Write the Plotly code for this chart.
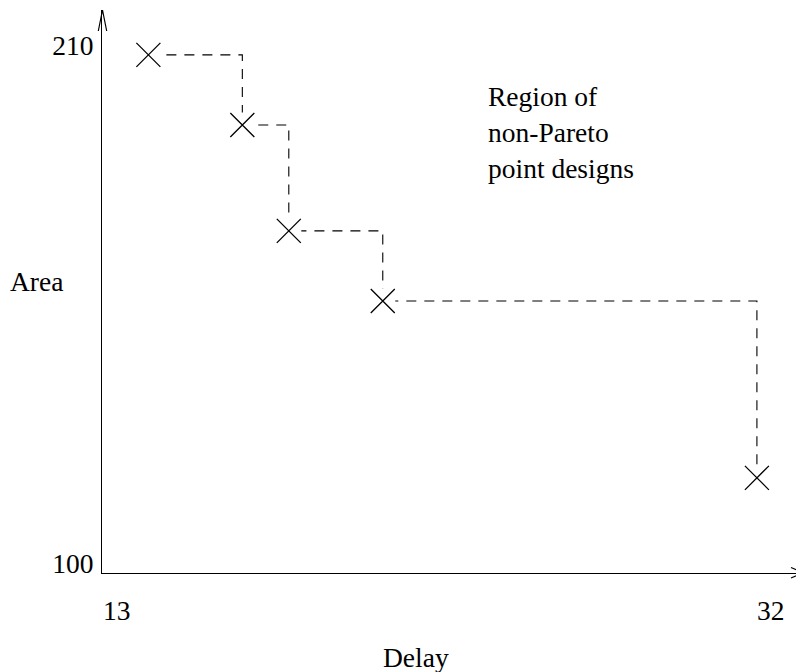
import plotly.graph_objects as go

# ---- data ----
delay = [13.92, 16.65, 18.0, 20.73, 31.6]
area = [208.0, 193.1, 170.6, 155.7, 118.1]
x_ticks = [13, 32]
y_ticks = [100, 210]
x_title = "Delay"
y_title = "Area"
note = "Region of<br>non-Pareto<br>point designs"

FONT = "Liberation Serif, Times New Roman, serif"
OFF = 8  # page body margin
W, H = 804 - OFF, 672 - OFF
# plot area in page pixels: x 102..803, y 10..573
PL, PR, PT, PB = 102, 803, 10, 573
ML, MR, MT, MB = PL - OFF, W - (PR - OFF), PT - OFF, H - (PB - OFF)
PW, PH = PR - PL, PB - PT


def px(x):
    return (x - PL) / PW


def py(y):
    return (PB - y) / PH


fig = go.Figure()

# stair-step dashed frontier
fig.add_trace(go.Scatter(
    x=delay, y=area, mode="lines", line_shape="hv",
    line=dict(color="black", width=1.1, dash="10px,8px"),
    hoverinfo="skip", showlegend=False, cliponaxis=False))
# white patches that open a gap around each marker
fig.add_trace(go.Scatter(
    x=delay, y=area, mode="markers",
    marker=dict(symbol="square", size=25, color="white", line=dict(width=0)),
    hoverinfo="skip", showlegend=False, cliponaxis=False))
# X markers
fig.add_trace(go.Scatter(
    x=delay, y=area, mode="markers",
    marker=dict(symbol="x-thin", size=24, color="black",
                line=dict(width=1.3, color="black")),
    hoverinfo="skip", showlegend=False, cliponaxis=False))

shapes = []
# y-axis arrowhead (open V)
shapes.append(dict(type="path", xref="paper", yref="paper",
                   path=f"M{px(98.3)},{py(31)} L{px(102.5)},{py(10)} L{px(106.7)},{py(31)}",
                   line=dict(color="black", width=1.2)))
# x-axis arrowhead (open V)
shapes.append(dict(type="path", xref="paper", yref="paper",
                   path=f"M{px(791)},{py(567.5)} L{px(803)},{py(572.8)} L{px(791)},{py(578)}",
                   line=dict(color="black", width=1.2)))

annotations = [
    dict(text=note, xref="paper", yref="paper", x=px(486), y=py(132),
         xanchor="left", yanchor="middle", align="left", showarrow=False,
         font=dict(family=FONT, size=27.5, color="black")),
    dict(text=y_title, xref="paper", yref="paper", x=px(8), y=py(281),
         xanchor="left", yanchor="middle", showarrow=False,
         font=dict(family=FONT, size=27.5, color="black")),
    dict(text=x_title, xref="paper", yref="paper", x=px(416), y=py(657),
         xanchor="center", yanchor="middle", showarrow=False,
         font=dict(family=FONT, size=27.5, color="black")),
]

x0 = 13 + (PL - 116.7) / 34.42
x1 = 13 + (PR - 116.7) / 34.42
y0 = 100 - (PB - 563) / 4.705
y1 = 210 + (45.5 - PT) / 4.705

fig.update_layout(
    width=W, height=H,
    margin=dict(l=ML, r=MR, t=MT, b=MB, pad=0),
    paper_bgcolor="white", plot_bgcolor="white",
    font=dict(family=FONT, size=27.5, color="black"),
    xaxis=dict(range=[x0, x1], tickvals=x_ticks, ticktext=[str(v) for v in x_ticks],
               showgrid=False, zeroline=False, showline=True, linecolor="black",
               linewidth=1.2, ticks="", ticklabelstandoff=13,
               tickfont=dict(family=FONT, size=27.5, color="black")),
    yaxis=dict(range=[y0, y1], tickvals=y_ticks, ticktext=[str(v) for v in y_ticks],
               showgrid=False, zeroline=False, showline=True, linecolor="black",
               linewidth=1.2, ticks="", ticklabelstandoff=2,
               tickfont=dict(family=FONT, size=27.5, color="black")),
    shapes=shapes, annotations=annotations, showlegend=False,
)

fig.write_html("out.html", config={"displayModeBar": False})
